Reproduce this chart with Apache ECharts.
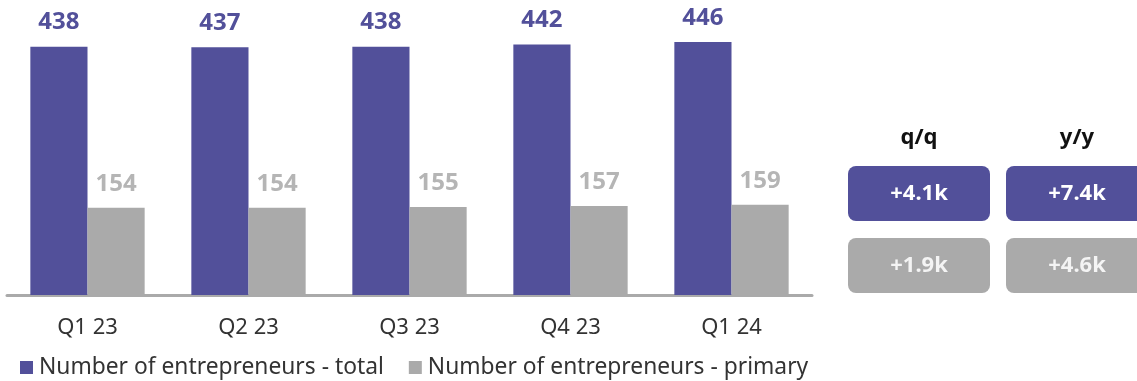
<!DOCTYPE html>
<html>
<head>
<meta charset="utf-8">
<script src="https://cdn.jsdelivr.net/npm/echarts@6/dist/echarts.min.js"></script>
<style>
  html, body { margin: 0; padding: 0; background: #fff; }
  #c1 { width: 1137px; height: 381px; }
</style>
</head>
<body>
<div id="c1"></div>
<script>
const categories = ['Q1 23', 'Q2 23', 'Q3 23', 'Q4 23', 'Q1 24']
const totalValues = [438, 437, 438, 442, 446]
const primaryValues = [154, 154, 155, 157, 159]
const changeHeaders = ['q/q', 'y/y']
const totalChanges = ['+4.1k', '+7.4k']
const primaryChanges = ['+1.9k', '+4.6k']

const purple = '#52509a'
const grey = '#aaaaaa'
const fontFamily = '"Noto Sans", sans-serif'

// boxes on the right
const colX = [848, 1006]
const boxW = 142
const graphics = []
changeHeaders.forEach((h, i) => {
  graphics.push({
    type: 'text',
    x: colX[i] + boxW / 2, y: 138,
    style: { text: h, fill: '#111', font: 'bold 22px ' + fontFamily, align: 'center', verticalAlign: 'middle' }
  })
})
const rows = [
  { vals: totalChanges, color: purple, y: 166, text: '#fff' },
  { vals: primaryChanges, color: grey, y: 238, text: '#f4f4f4' }
]
rows.forEach(r => {
  r.vals.forEach((v, i) => {
    graphics.push({
      type: 'rect',
      shape: { x: colX[i], y: r.y, width: boxW, height: 55, r: 8 },
      style: { fill: r.color }
    })
    graphics.push({
      type: 'text',
      x: colX[i] + boxW / 2, y: r.y + 27.5,
      style: { text: v, fill: r.text, font: 'bold 22px ' + fontFamily, align: 'center', verticalAlign: 'middle' }
    })
  })
})

const myChart = echarts.init(document.getElementById('c1'))
const option = {
  animation: false,
  textStyle: { fontFamily },
  grid: { left: 7, top: 11.5, width: 805, bottom: 86, containLabel: false },
  legend: {
    left: 15, bottom: -3,
    itemWidth: 13, itemHeight: 13, itemGap: 25,
    icon: 'rect',
    textStyle: { fontSize: 22.8, color: '#333', padding: [0, 0, 0, 1] },
    data: ['Number of entrepreneurs - total', 'Number of entrepreneurs - primary']
  },
  xAxis: {
    type: 'category',
    data: categories,
    axisLine: { show: true, lineStyle: { color: grey, width: 3 } },
    axisTick: { show: false },
    axisLabel: { fontSize: 22, color: '#333', margin: 22 }
  },
  yAxis: {
    type: 'value', min: 0, max: 500,
    show: false,
    splitLine: { show: false }
  },
  series: [
    {
      name: 'Number of entrepreneurs - total',
      type: 'bar',
      data: totalValues,
      barGap: '0%',
      barCategoryGap: '29%',
      itemStyle: { color: purple },
      label: { show: true, position: 'top', distance: 12, color: purple, fontSize: 24, fontWeight: 'bold' }
    },
    {
      name: 'Number of entrepreneurs - primary',
      type: 'bar',
      data: primaryValues,
      itemStyle: { color: grey },
      label: { show: true, position: 'top', distance: 12, color: '#b5b5b5', fontSize: 24, fontWeight: 'bold' }
    }
  ],
  graphic: graphics
}
myChart.setOption(option)
</script>
</body>
</html>
